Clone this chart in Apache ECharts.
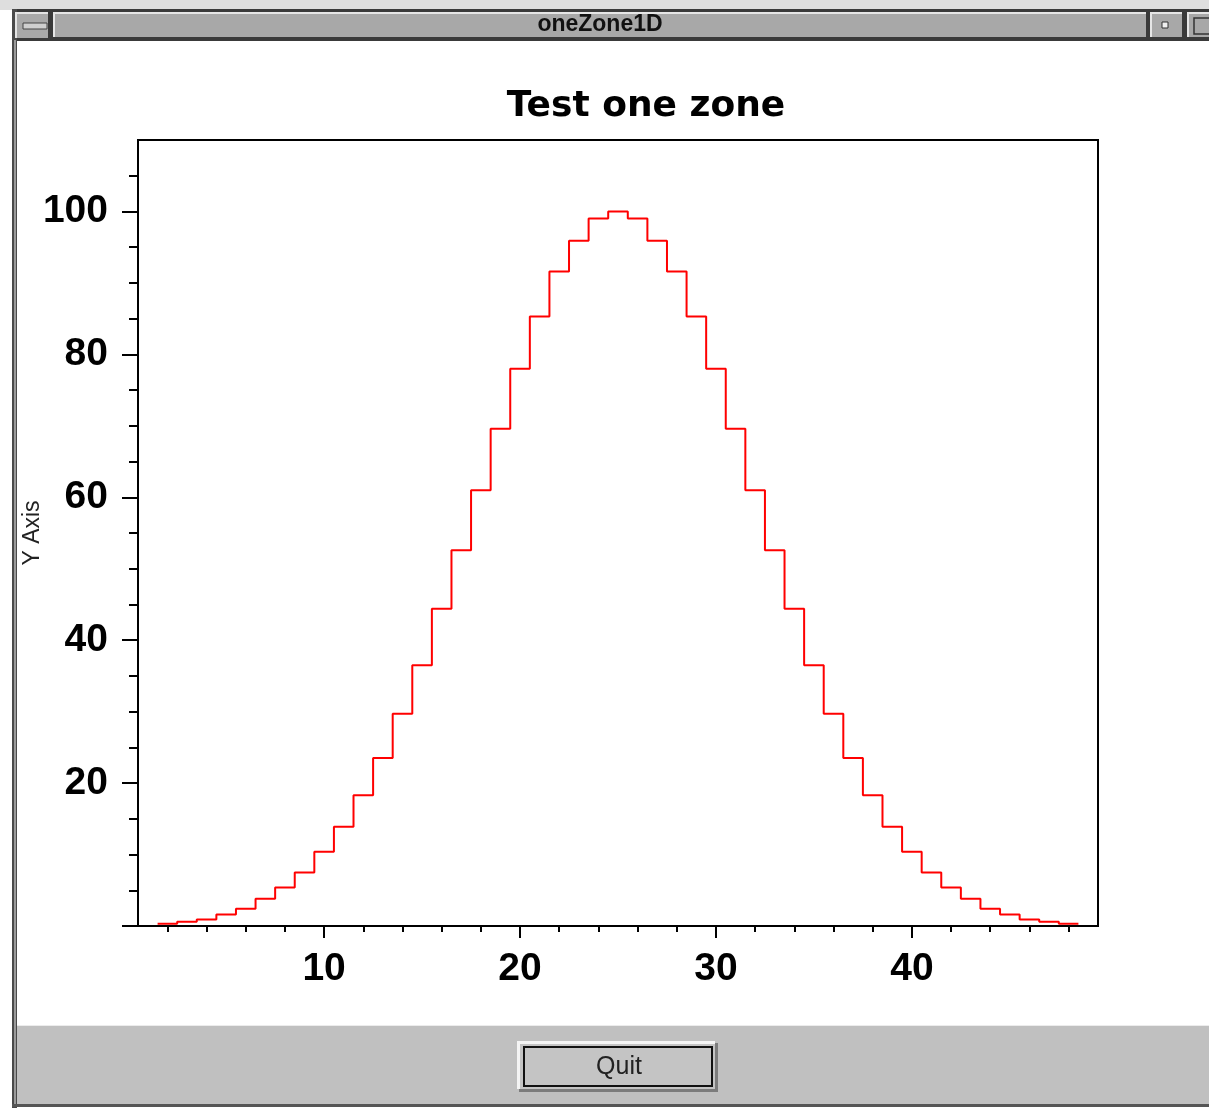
<!DOCTYPE html>
<html>
<head>
<meta charset="utf-8">
<script src="https://cdn.jsdelivr.net/npm/echarts@6/dist/echarts.min.js"></script>
<style>
html,body{margin:0;padding:0;background:#ffffff;}
#chart{width:1209px;height:1109px;}
</style>
</head>
<body>
<div id="chart"></div>
<script>
// ---- data ----
const binCenters = [2,3,4,5,6,7,8,9,10,11,12,13,14,15,16,17,18,19,20,21,22,23,24,25,
                    26,27,28,29,30,31,32,33,34,35,36,37,38,39,40,41,42,43,44,45,46,47,48];
const counts = [0.3,0.6,0.9,1.6,2.4,3.8,5.4,7.5,10.4,13.9,18.3,23.5,29.7,36.5,44.4,52.6,61.0,69.6,78.0,85.3,91.6,95.9,99.0,100,
                99.0,95.9,91.6,85.3,78.0,69.6,61.0,52.6,44.4,36.5,29.7,23.5,18.3,13.9,10.4,7.5,5.4,3.8,2.4,1.6,0.9,0.6,0.3];
const xLabelValues = [10,20,30,40];
const xMinorTicks = [2,4,6,8,12,14,16,18,22,24,26,28,32,34,36,38,42,44,46,48];
const yLabelValues = [20,40,60,80,100];
const yMajorTicks = [0,20,40,60,80,100];
const yMinorTicks = [5,10,15,25,30,35,45,50,55,65,70,75,85,90,95,105];
const chartTitle = 'Test one zone';
const windowTitle = 'oneZone1D';
const yAxisName = 'Y Axis';
const buttonText = 'Quit';

// histogram outline: each bin drawn from its left edge to its right edge
const halfWidth = 0.5;
const stepData = binCenters.map((c, i) => [c - halfWidth, counts[i]]);
stepData.push([binCenters[binCenters.length - 1] + halfWidth, counts[counts.length - 1]]);

const chart = echarts.init(document.getElementById('chart'), null, {renderer: 'canvas'});

const labelFont = {fontSize: 39, fontWeight: 'bold', fontFamily: 'Liberation Sans', color: '#000'};

const chrome = [
  // top strip
  {type:'rect', shape:{x:0,y:0,width:1209,height:10}, style:{fill:'#dedede'}, z:-5},
  // title bar outer dark
  {type:'rect', shape:{x:12,y:9,width:1197,height:32}, style:{fill:'#3a3a3a'}, z:-5},
  // left button
  {type:'rect', shape:{x:15,y:12,width:33,height:26}, style:{fill:'#e4e4e4'}, z:-4},
  {type:'rect', shape:{x:17,y:14,width:31,height:24}, style:{fill:'#a9a9a9'}, z:-4},
  {type:'rect', shape:{x:23,y:23,width:24,height:6}, style:{fill:'#cfcfcf', stroke:'#444', lineWidth:1}, z:-3},
  // title area
  {type:'rect', shape:{x:53,y:12,width:1093,height:25}, style:{fill:'#e6e6e6'}, z:-4},
  {type:'rect', shape:{x:55,y:14,width:1091,height:23}, style:{fill:'#a8a8a8'}, z:-4},
  // right button 1
  {type:'rect', shape:{x:1150,y:12,width:32,height:25}, style:{fill:'#e6e6e6'}, z:-4},
  {type:'rect', shape:{x:1152,y:14,width:30,height:23}, style:{fill:'#a8a8a8'}, z:-4},
  {type:'rect', shape:{x:1162,y:22,width:6,height:6}, style:{fill:'#f0f0f0', stroke:'#333', lineWidth:1}, z:-3},
  // right button 2
  {type:'rect', shape:{x:1187,y:12,width:22,height:25}, style:{fill:'#e6e6e6'}, z:-4},
  {type:'rect', shape:{x:1189,y:14,width:20,height:23}, style:{fill:'#a8a8a8'}, z:-4},
  {type:'rect', shape:{x:1194,y:18,width:20,height:16}, style:{fill:'none', stroke:'#333', lineWidth:1.5}, z:-3},
  // window title
  {type:'text', x:600, y:25, style:{text:windowTitle, fontSize:23, fontWeight:'bold', fontFamily:'Liberation Sans', fill:'#111', align:'center', verticalAlign:'middle'}, z:-2},
  // left frame
  {type:'rect', shape:{x:12,y:9,width:5,height:1099}, style:{fill:'#4a4a4a'}, z:-5},
  {type:'rect', shape:{x:14,y:40,width:2,height:1066}, style:{fill:'#9a9a9a'}, z:-4},
  // bottom panel
  {type:'rect', shape:{x:17,y:1025,width:1192,height:80}, style:{fill:'#c0c0c0'}, z:-5},
  {type:'rect', shape:{x:17,y:1025,width:1192,height:1}, style:{fill:'#ececec'}, z:-4},
  {type:'rect', shape:{x:12,y:1104,width:1197,height:3}, style:{fill:'#555555'}, z:-4},
  // quit button
  {type:'rect', shape:{x:519,y:1043,width:199,height:49}, style:{fill:'#7c7c7c'}, z:-3},
  {type:'rect', shape:{x:517,y:1041,width:198,height:48}, style:{fill:'#f4f4f4'}, z:-3},
  {type:'rect', shape:{x:520,y:1044,width:195,height:45}, style:{fill:'#c4c4c4'}, z:-3},
  {type:'rect', shape:{x:524,y:1047,width:188,height:39}, style:{fill:'none', stroke:'#111', lineWidth:2}, z:-2},
  {type:'text', x:619, y:1067, style:{text:buttonText, fontSize:25, fontFamily:'Liberation Sans', fill:'#222', align:'center', verticalAlign:'middle'}, z:-2}
];

const option = {
  backgroundColor: '#ffffff',
  animation: false,
  title: {
    text: chartTitle,
    left: 641,
    top: 84,
    textAlign: 'center',
    textStyle: {fontSize: 36, fontWeight: 'bold', fontFamily: 'DejaVu Sans', color: '#000'}
  },
  graphic: {elements: chrome},
  grid: {
    left: 138, top: 140, right: 111, bottom: 183,
    show: true, borderColor: '#000', borderWidth: 2, backgroundColor: 'transparent'
  },
  xAxis: [
    {
      type: 'value', min: 0.5, max: 49.5, position: 'bottom',
      axisLine: {show: false},
      splitLine: {show: false},
      axisTick: {show: true, length: 12, customValues: xLabelValues, lineStyle: {color: '#000', width: 2}},
      axisLabel: Object.assign({customValues: xLabelValues, margin: 24}, labelFont)
    },
    {
      type: 'value', min: 0.5, max: 49.5, position: 'bottom',
      axisLine: {show: false},
      splitLine: {show: false},
      axisTick: {show: true, length: 6, customValues: xMinorTicks, lineStyle: {color: '#000', width: 2}},
      axisLabel: {show: false}
    }
  ],
  yAxis: [
    {
      type: 'value', min: 0, max: 110, position: 'left',
      axisLine: {show: false},
      splitLine: {show: false},
      axisTick: {show: true, length: 16, customValues: yMajorTicks, lineStyle: {color: '#000', width: 2}},
      axisLabel: Object.assign({customValues: yLabelValues, margin: 30}, labelFont),
      name: yAxisName,
      nameLocation: 'middle',
      nameGap: 94,
      nameMoveOverlap: false,
      nameTextStyle: {fontSize: 23, fontFamily: 'Liberation Sans', color: '#222'}
    },
    {
      type: 'value', min: 0, max: 110, position: 'left',
      axisLine: {show: false},
      splitLine: {show: false},
      axisTick: {show: true, length: 9, customValues: yMinorTicks, lineStyle: {color: '#000', width: 2}},
      axisLabel: {show: false}
    }
  ],
  series: [
    {
      type: 'line',
      xAxisIndex: 0,
      yAxisIndex: 0,
      step: 'end',
      data: stepData,
      showSymbol: false,
      symbol: 'none',
      lineStyle: {color: '#ff0000', width: 2},
      itemStyle: {color: '#ff0000'},
      clip: true
    }
  ]
};
chart.setOption(option);
</script>
</body>
</html>
